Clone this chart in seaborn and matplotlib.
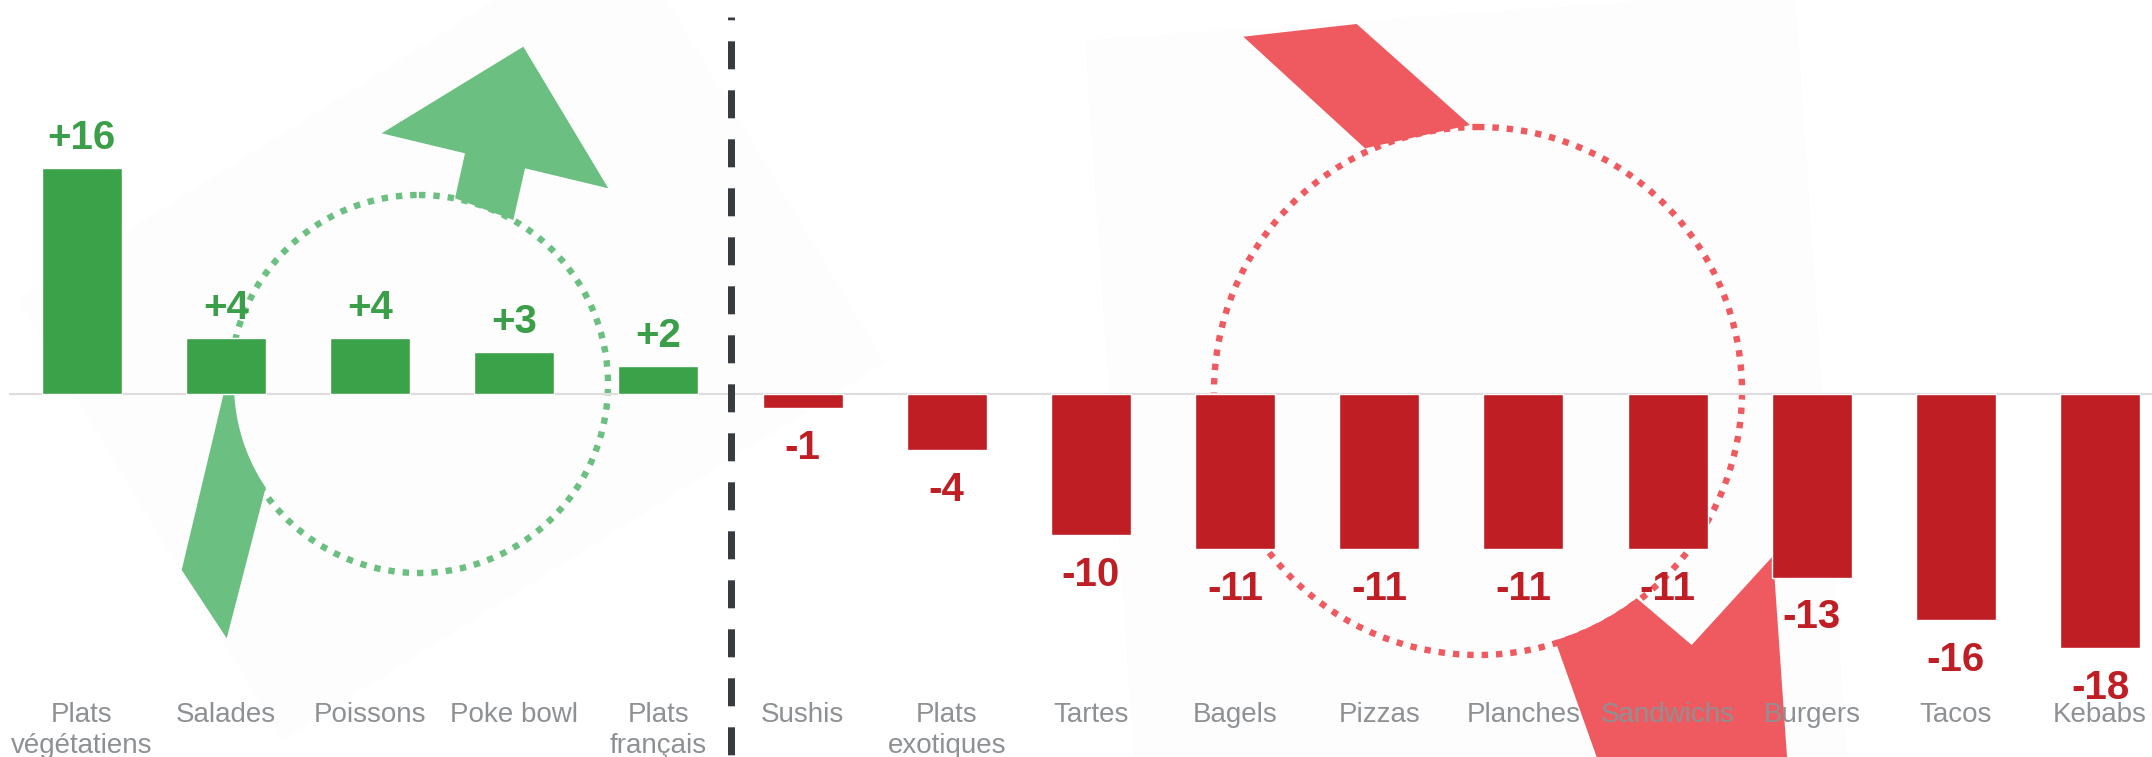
import numpy as np
import pandas as pd
import matplotlib
matplotlib.use("Agg")
import matplotlib.pyplot as plt
from matplotlib.patches import Polygon, Circle
import seaborn as sns

# ---- data ----
categories = ["Plats\nvégétatiens", "Salades", "Poissons", "Poke bowl", "Plats\nfrançais",
              "Sushis", "Plats\nexotiques", "Tartes", "Bagels", "Pizzas", "Planches",
              "Sandwichs", "Burgers", "Tacos", "Kebabs"]
values = [16, 4, 4, 3, 2, -1, -4, -10, -11, -11, -11, -11, -13, -16, -18]

# ---- styling ----
GREEN_BAR = "#3BA249"
GREEN_TEXT = "#3A9F48"
GREEN_ART = "#6BBF80"
RED_BAR = "#C01E25"
RED_TEXT = "#C01E25"
RED_ART = "#EE5A60"
LABEL_GREY = "#8E9194"
FAINT = "#FDFDFD"

sns.set_style("white")
plt.rcParams["font.family"] = ["Liberation Sans", "DejaVu Sans"]

W, H, DPI = 2152, 757, 100
fig = plt.figure(figsize=(W / DPI, H / DPI), dpi=DPI)

# decorative layer in figure pixels (origin top-left)
deco = fig.add_axes([0, 0, 1, 1], zorder=0)
deco.set_xlim(0, W)
deco.set_ylim(H, 0)
deco.axis("off")


def arc(cx, cy, r, p0, p1, n=20):
    a0 = np.arctan2(p0[1] - cy, p0[0] - cx)
    a1 = np.arctan2(p1[1] - cy, p1[0] - cx)
    t = np.linspace(a0, a1, n)
    return list(zip(cx + r * np.cos(t), cy + r * np.sin(t)))


DOTS = (0, (1.0, 1.25))

# faint rotated panels behind the two circular arrows
deco.add_patch(Polygon([(17, 300), (620, -78), (885, 362), (282, 740)],
                       closed=True, color=FAINT, lw=0))
deco.add_patch(Polygon([(1085, 40), (1795, -10), (1850, 800), (1140, 850)],
                       closed=True, color=FAINT, lw=0))

# green circular arrow
gcx, gcy, gr = 419, 384, 189
deco.add_patch(Polygon([(381.7, 133.3), (523.3, 46.7), (608.3, 188.3), (525, 168.3),
                        (513.3, 220), (455, 198.3), (465, 153.3)],
                       closed=True, color=GREEN_ART, lw=0))
deco.add_patch(Polygon([(223.3, 395)] + arc(gcx, gcy, gr - 4, (235, 395), (265, 488))
                       + [(226.7, 638.3), (181.7, 570)],
                       closed=True, color=GREEN_ART, lw=0))
deco.add_patch(Circle((gcx, gcy), gr, fill=False, ec=GREEN_ART, lw=4.6, linestyle=DOTS))

# red circular arrow
rcx, rcy, rr = 1478, 391, 264
deco.add_patch(Polygon([(1243.3, 36.7), (1356.7, 24), (1470, 125), (1365, 148.3)],
                       closed=True, color=RED_ART, lw=0))
deco.add_patch(Polygon(arc(rcx, rcy, rr - 3, (1555, 640), (1636.7, 598.3))
                       + [(1691.7, 645), (1773, 556), (1790, 800), (1612, 800)],
                       closed=True, color=RED_ART, lw=0))
deco.add_patch(Circle((rcx, rcy), rr, fill=False, ec=RED_ART, lw=4.6, linestyle=DOTS))

# ---- main bar chart ----
ax = fig.add_axes([0, 0, 1, 1], zorder=1)
ax.patch.set_alpha(0)

df = pd.DataFrame({"categorie": categories, "evolution": values})
palette = {c: (GREEN_BAR if v > 0 else RED_BAR) for c, v in zip(categories, values)}
sns.barplot(data=df, x="categorie", y="evolution", hue="categorie", order=categories,
            palette=palette, width=0.555, saturation=1, legend=False, ax=ax,
            errorbar=None, zorder=2)

PX_PER_UNIT = 14.12
BASE_PX = 394
ax.set_xlim(-0.567, 14.36)
ax.set_ylim(-(H - BASE_PX) / PX_PER_UNIT, BASE_PX / PX_PER_UNIT)
ax.axis("off")


def py(px):
    """Pixel row (from top) to data y."""
    return (BASE_PX - px) / PX_PER_UNIT


# zero line
ax.axhline(0, xmin=10 / W, xmax=1, color="#DDDDDD", lw=1.5, zorder=1)

# separator between gains and losses
ax.plot([4.5, 4.5], [py(17), py(H + 5)], color="#373C41", lw=5.04,
        linestyle=(3.6, (4, 3)), solid_capstyle="butt", zorder=3)

# value labels
for i, v in enumerate(values):
    if v > 0:
        ax.text(i, v + 19 / PX_PER_UNIT, f"{v:+d}", ha="center", va="baseline",
                fontsize=29, fontweight="bold", color=GREEN_TEXT, zorder=4)
    else:
        ax.text(i, v - 50.7 / PX_PER_UNIT, f"{v:+d}", ha="center", va="baseline",
                fontsize=29, fontweight="bold", color=RED_TEXT, zorder=4)

# category labels, one text per line so the first line shares the common baseline
LINE_PX = 31
for i, c in enumerate(categories):
    for k, line in enumerate(c.split("\n")):
        ax.text(i, py(722 + k * LINE_PX), line, ha="center", va="baseline",
                fontsize=20, color=LABEL_GREY, zorder=4)

fig.savefig("out.png", dpi=DPI)
